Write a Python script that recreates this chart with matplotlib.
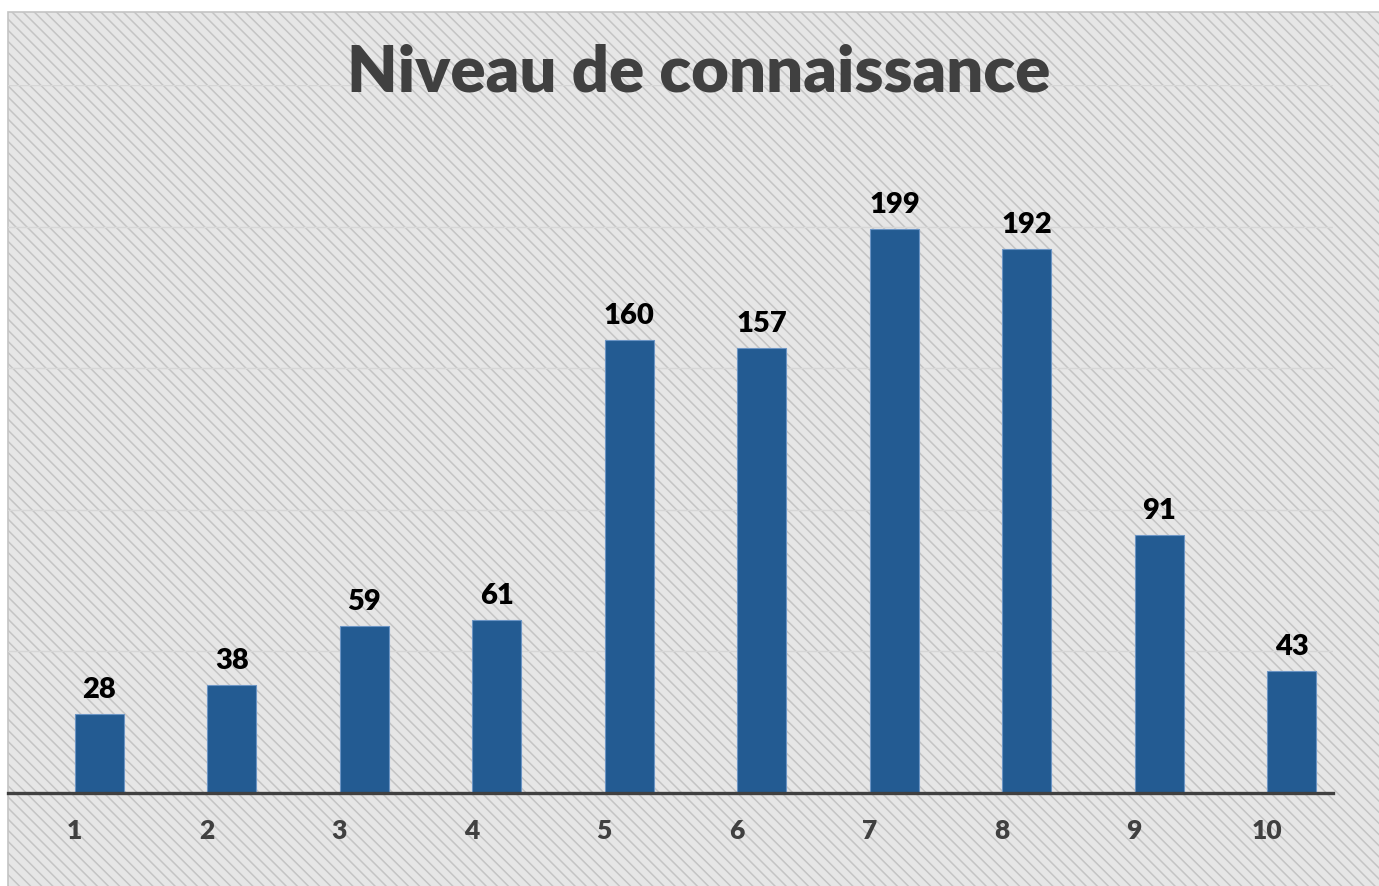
import matplotlib
matplotlib.use('Agg')
import matplotlib.pyplot as plt
from matplotlib.patches import Rectangle

# Data
levels = ['1', '2', '3', '4', '5', '6', '7', '8', '9', '10']
counts = [28, 38, 59, 61, 160, 157, 199, 192, 91, 43]

W, H = 1379, 886
plt.rcParams['font.family'] = ['Lato', 'DejaVu Sans']
plt.rcParams['hatch.linewidth'] = 1.1
plt.rcParams['hatch.color'] = '#f6f6f6'

fig = plt.figure(figsize=(W / 100, H / 100), dpi=100)
fig.patch.set_facecolor('white')

# chart area background with diagonal stripes
bg = Rectangle((8 / W, -0.01), 1.0, 1.01 - 12 / H, transform=fig.transFigure,
               facecolor='#e6e6e6', edgecolor='#c4c4c4', linewidth=1.2,
               hatch='\\\\\\', zorder=-1)
fig.patches.append(bg)

ax = fig.add_axes([8 / W, (H - 793) / H, (1333 - 8) / W, (793 - 85) / H])
ax.set_zorder(2)
ax.patch.set_alpha(0)

x = list(range(len(levels)))
# bars sit a little right of the category centre (as in the source chart)
bar_x = [i + 0.19 for i in x]
bars = ax.bar(bar_x, counts, width=0.37, color='#235b92', edgecolor='#6b94c4',
              linewidth=0.8, zorder=3)

for b, v in zip(bars, counts):
    ax.annotate(str(v), (b.get_x() + b.get_width() / 2, v), xytext=(0, 8),
                textcoords='offset points', ha='center', va='bottom',
                fontsize=21, fontweight='heavy', color='black')

ax.set_xlim(-0.5, len(levels) - 0.5)
ax.set_ylim(0, 250)
ax.set_yticks([50, 100, 150, 200, 250])
ax.yaxis.grid(True, color='#d6d6d6', linewidth=1.0, zorder=1)
ax.set_axisbelow(True)
ax.tick_params(axis='y', left=False, labelleft=False)
ax.set_xticks(x)
ax.set_xticklabels(levels, fontsize=19, fontweight='heavy', color='#404040')
ax.tick_params(axis='x', length=0, pad=19)

for s in ['top', 'right', 'left']:
    ax.spines[s].set_visible(False)
ax.spines['bottom'].set_color('#404040')
ax.spines['bottom'].set_linewidth(2.4)
ax.spines['bottom'].set_zorder(4)

fig.text(0.5 * (347 + 1050) / W, 1 - 73 / H, 'Niveau de connaissance',
         ha='center', va='center', fontsize=47, fontweight='heavy',
         color='#404040')

fig.savefig('out.png', dpi=100)
